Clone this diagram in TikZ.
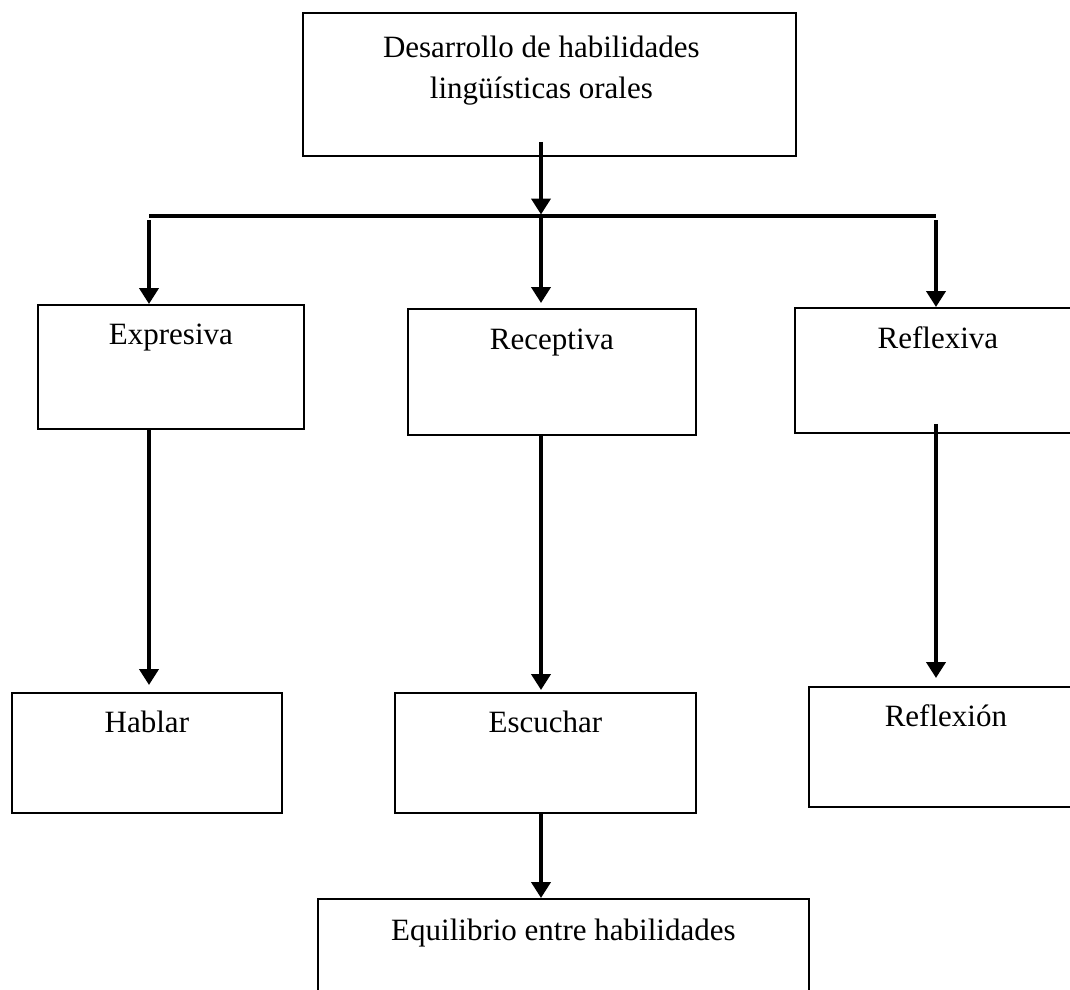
\documentclass[tikz,border=0pt]{standalone}
\usepackage{fontspec}
\setmainfont{Liberation Serif}
\usetikzlibrary{arrows.meta}

\begin{document}
\begin{tikzpicture}[x=1pt,y=-1pt,
    caja/.style={draw=black,line width=1.8pt,rectangle,inner sep=0pt,anchor=north west,font=\fontsize{31}{41}\selectfont},
    flecha/.style={line width=4pt,-{Triangle[width=19pt,length=16pt]}}]
          \useasboundingbox (0,0) rectangle (1070,989);
          \clip (0,0) rectangle (1070,989);
          \node [caja,minimum width=493,text height=45,text depth=98] (des) at (302,12) {\begin{tabular}[t]{c}Desarrollo de habilidades\\lingüísticas orales\end{tabular}\hspace*{16pt}};
          \node [caja,minimum width=266,text height=40,text depth=84] (expr) at (37,304) {Expresiva};
          \node [caja,minimum width=288,text height=41,text depth=85] (rec) at (407,308) {Receptiva};
          \node [caja,minimum width=286,text height=41,text depth=84] (refl) at (794,307) {Reflexiva};
          \node [caja,minimum width=270,text height=40,text depth=80] (hab) at (11,692) {Hablar};
          \node [caja,minimum width=301,text height=40,text depth=80] (esc) at (394,692) {Escuchar};
          \node [caja,minimum width=274,text height=40,text depth=80] (refn) at (808,686) {Reflexión};
          \node [caja,minimum width=491,text height=42,text depth=108] (equi) at (317,898) {Equilibrio entre habilidades};
          \coordinate (barL) at (149,216);
          \coordinate (barM) at (541,216);
          \coordinate (barR) at (936,216);
          \draw [line width=4pt] (barL) -- (barR);
          \draw [flecha] ([yshift=15pt]barM |- des.south) -- ([yshift=1.5pt]barM);
          \draw [flecha] ([yshift=-4pt]barL) -- (barL |- expr.north);
          \draw [flecha] (barM) -- ([yshift=5pt]barM |- rec.north);
          \draw [flecha] ([yshift=-4pt]barR) -- (barR |- refl.north);
          \draw [flecha] (barL |- expr.south) -- ([yshift=7pt]barL |- hab.north);
          \draw [flecha] (barM |- rec.south) -- ([yshift=2pt]barM |- esc.north);
          \draw [flecha] ([yshift=10pt]barR |- refl.south) -- ([yshift=8pt]barR |- refn.north);
          \draw [flecha] (barM |- esc.south) -- (barM |- equi.north);
          \end{tikzpicture}
\end{document}
